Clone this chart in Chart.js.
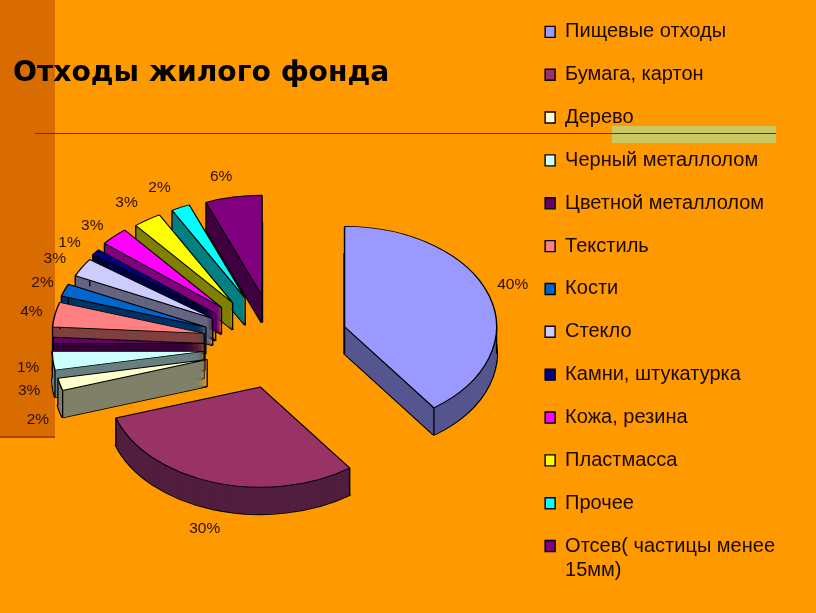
<!DOCTYPE html>
<html><head><meta charset="utf-8">
<script src="https://cdn.jsdelivr.net/npm/chart.js@4"></script>
<style>
html,body{margin:0;padding:0;background:#FF9900;width:816px;height:613px;overflow:hidden}
.d{position:absolute}
canvas{position:absolute;left:0;top:0}
</style></head><body>
<div class="d" style="left:0;top:0;width:55px;height:436px;background:#D96C00"></div>
<div class="d" style="left:0;top:436px;width:55px;height:2px;background:#A84400"></div>
<div class="d" style="left:612px;top:126px;width:164px;height:17px;background:#C9C863"></div>
<div class="d" style="left:35px;top:133px;width:741px;height:1px;background:#7A2A00"></div>
<canvas id="c" width="816" height="613"></canvas>
<script>
const categories = ["Пищевые отходы","Бумага, картон","Дерево","Черный металлолом","Цветной металлолом","Текстиль","Кости","Стекло","Камни, штукатурка","Кожа, резина","Пластмасса","Прочее",["Отсев( частицы менее","15мм)"]];
const shares = [40,30,2,3,1,4,2,3,1,3,3,2,6];
const topColors = ["#9999FF","#993366","#FFFFCC","#CCFFFF","#660066","#FF8080","#0066CC","#CCCCFF","#000080","#FF00FF","#FFFF00","#00FFFF","#800080"];
const wallColors = ["#55558F","#521F40","#80806A","#6A8080","#330033","#804040","#003366","#666680","#000040","#800080","#808000","#008080","#400040"];
const labelNudge = [[-3,-5],[4,31],[2,38],[0,34],[0,32],[-1,2],[-3,2],[-8,2],[-11,3],[-9,1],[-11,-2],[-12,-4],[-10,-2]];
const sliceNudge = [[0,0],[4,2],[-3,7],[-4,6],[-3,4],[-5,1],[-7,3],[-5,1],[-7,1],[-7,-1],[-6,0],[-3,-1],[-3,0]];
const drawOrder = [12,11,10,9,8,7,6,5,4,3,2,1,0];
const pieCenter = {x:278,y:341}, squash = 0.66, depth = 27, explode = 70, labelRadius = 250;

function withOptions(el, over, fn){
  const saved = el.options;
  el.options = Object.assign({}, saved, over);
  fn();
  el.options = saved;
}
const pie3d = {
  id:'pie3d',
  beforeDatasetsDraw(chart){
    const ctx = chart.ctx, arcs = chart.getDatasetMeta(0).data;
    const origin = (el, i) => {
      const h = (el.startAngle + el.endAngle)/2;
      return [pieCenter.x + Math.cos(h)*explode + sliceNudge[i][0],
              pieCenter.y + Math.sin(h)*explode*squash + sliceNudge[i][1]];
    };
    const place = (el, i, d) => {
      const o = origin(el, i);
      ctx.translate(o[0], o[1] + d);
      ctx.scale(1, squash);
      ctx.translate(-el.x, -el.y);
    };
    for (const i of drawOrder){
      const el = arcs[i];
      // bottom outline
      ctx.save(); place(el, i, depth);
      withOptions(el,{backgroundColor:wallColors[i],borderWidth:2.6,borderColor:'#000'},()=>el.draw(ctx));
      ctx.restore();
      for (let d = depth; d >= 0.5; d -= 0.5){
        ctx.save(); place(el, i, d);
        withOptions(el,{backgroundColor:wallColors[i],borderWidth:0},()=>el.draw(ctx));
        ctx.restore();
      }
      // vertical edges
      const r = el.outerRadius, o = origin(el, i);
      const pts = [[o[0],o[1]]];
      const angs = [el.startAngle, el.endAngle];
      for (const a of [0, Math.PI]) if (a >= el.startAngle && a <= el.endAngle) angs.push(a);
      for (const a of angs) pts.push([o[0]+Math.cos(a)*r, o[1]+Math.sin(a)*r*squash]);
      ctx.save(); ctx.strokeStyle='#000'; ctx.lineWidth=1.3; ctx.beginPath();
      for (const p of pts){ ctx.moveTo(p[0],p[1]); ctx.lineTo(p[0],p[1]+depth); }
      ctx.stroke(); ctx.restore();
      // top face
      ctx.save(); place(el, i, 0); el.draw(ctx); ctx.restore();
    }
    // value labels
    ctx.save();
    ctx.font = '15.5px "Liberation Sans"'; ctx.fillStyle='#2B1000';
    ctx.textAlign='center'; ctx.textBaseline='middle';
    arcs.forEach((el,i)=>{
      const h=(el.startAngle+el.endAngle)/2;
      ctx.fillText(shares[i]+'%',
        pieCenter.x+Math.cos(h)*labelRadius+labelNudge[i][0],
        pieCenter.y+Math.sin(h)*labelRadius*squash+labelNudge[i][1]);
    });
    ctx.restore();
    return false;
  }
};
new Chart(document.getElementById('c'),{
  type:'pie',
  data:{labels:categories,datasets:[{data:shares,backgroundColor:topColors,borderColor:'#000',borderWidth:1.4,radius:152}]},
  plugins:[pie3d],
  options:{
    responsive:false,animation:false,
    layout:{padding:{left:13,right:31,top:-1,bottom:0}},
    plugins:{
      tooltip:{enabled:false},
      title:{display:true,text:'Отходы жилого фонда',align:'start',fullSize:false,color:'#000',
        font:{family:'"DejaVu Sans"',size:28.2,weight:'bold'},padding:{top:58,bottom:10}},
      legend:{position:'right',align:'start',
        labels:{boxWidth:10,boxHeight:11,padding:22.85,color:'#1A0800',
          font:{family:'"Liberation Sans"',size:20,lineHeight:1.2}}}
    }
  }
});
</script></body></html>
